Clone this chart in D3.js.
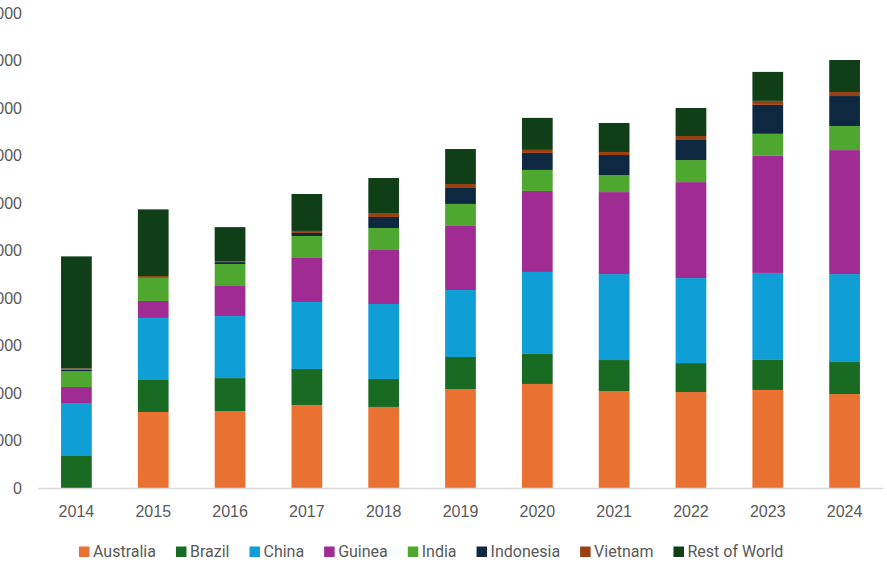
<!DOCTYPE html>
<html>
<head>
<meta charset="utf-8">
<script src="https://cdn.jsdelivr.net/npm/d3@7"></script>
<style>
  body { margin: 0; background: #fff; }
  svg { display: block; }
  .tick-label { font-family: "Liberation Sans", Arial, sans-serif; font-size: 16px; fill: #595959; }
  .legend-label { font-family: Roboto, "Open Sans", sans-serif; font-size: 16px; fill: #595959; }
</style>
</head>
<body>
<svg id="chart"></svg>
<script>
// data (thousand tonnes)
var years = ["2014","2015","2016","2017","2018","2019","2020","2021","2022","2023","2024"];
var seriesNames = ["Australia","Brazil","China","Guinea","India","Indonesia","Vietnam","Rest of World"];
var australia = [0, 80000, 81000, 87400, 85300, 104200, 109500, 102100, 101000, 103200, 98900];
var brazil    = [33700, 33700, 34700, 37900, 29500, 33700, 31600, 32600, 30500, 31600, 33700];
var china     = [55000, 65300, 65300, 70500, 78900, 70500, 86300, 90500, 89500, 91600, 92600];
var guinea    = [17600, 17900, 31600, 46300, 56800, 67400, 85300, 86300, 101000, 123200, 130500];
var india     = [16800, 24600, 23200, 23200, 23200, 23200, 22100, 17900, 23200, 23200, 25300];
var indonesia = [1600, 600, 2000, 3200, 11600, 16800, 17900, 21100, 21100, 30500, 31600];
var vietnam   = [1100, 1000, 1000, 2100, 4200, 4200, 3200, 3200, 4200, 4200, 4200];
var restOfWorld = [118000, 70200, 35800, 38900, 36800, 36800, 33700, 30500, 29500, 30500, 33700];
var yTicks = [0, 50000, 100000, 150000, 200000, 250000, 300000, 350000, 400000, 450000, 500000];

var colors = ["#E97132","#196B24","#0F9ED5","#A02B93","#4EA72E","#0E2841","#9A4012","#0F3E17"];

var width = 887, height = 575;
var plot = {left: 38, right: 883, top: 13, bottom: 488};

var svg = d3.select("#chart").attr("width", width).attr("height", height);

var table = years.map(function(y, i) {
  return {
    year: y,
    "Australia": australia[i], "Brazil": brazil[i], "China": china[i], "Guinea": guinea[i],
    "India": india[i], "Indonesia": indonesia[i], "Vietnam": vietnam[i], "Rest of World": restOfWorld[i]
  };
});

var stacked = d3.stack().keys(seriesNames)(table);

var x = d3.scaleBand().domain(years).range([plot.left, plot.right])
    .paddingInner(0.6).paddingOuter(0.3);
var y = d3.scaleLinear().domain([0, 500000]).range([plot.bottom, plot.top]);
var color = d3.scaleOrdinal().domain(seriesNames).range(colors);

// bars
svg.append("g").selectAll("g")
    .data(stacked)
    .enter().append("g")
      .attr("fill", function(d){ return color(d.key); })
    .selectAll("rect")
    .data(function(d){ return d; })
    .enter().append("rect")
      .attr("x", function(d){ return x(d.data.year); })
      .attr("width", x.bandwidth())
      .attr("y", function(d){ return y(d[1]); })
      .attr("height", function(d){ return y(d[0]) - y(d[1]); });

// y axis labels (no line, no grid) - left edge crops them like the original
var yAxis = svg.append("g")
    .attr("transform", "translate(" + [22, 0] + ")")
    .call(d3.axisLeft(y).tickValues(yTicks).tickSize(0).tickPadding(0).tickFormat(d3.format("d")));
yAxis.select(".domain").remove();
yAxis.selectAll("text").attr("class", "tick-label").attr("font-size", null).attr("font-family", null);

// x axis
var xAxis = svg.append("g")
    .attr("transform", "translate(0," + plot.bottom + ")")
    .call(d3.axisBottom(x).tickSize(0).tickPadding(18));
xAxis.select(".domain").attr("stroke", "#d9d9d9").attr("stroke-width", 1.5);
xAxis.selectAll("text").attr("class", "tick-label").attr("font-size", null).attr("font-family", null);

// legend
var legend = svg.append("g").attr("transform", "translate(" + [79, 557] + ")");
var cursor = 0;
seriesNames.forEach(function(name) {
  var item = legend.append("g").attr("transform", "translate(" + [cursor, 0] + ")");
  item.append("rect")
      .attr("y", -10.5)
      .attr("width", 10.5)
      .attr("height", 10.5)
      .attr("fill", color(name));
  var t = item.append("text")
      .attr("class", "legend-label")
      .attr("x", 14)
      .text(name);
  cursor += 14 + t.node().getComputedTextLength() + 20;
});
</script>
</body>
</html>
